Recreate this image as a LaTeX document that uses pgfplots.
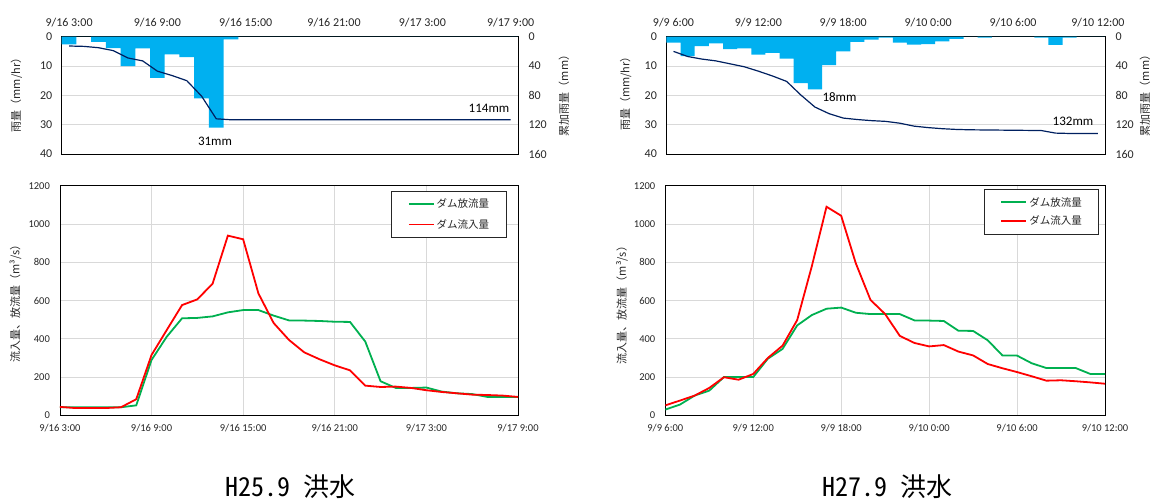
\documentclass[border=0pt]{standalone}
\usepackage{pgfplots}
\pgfplotsset{compat=1.18}
\usepackage{fontspec}
\usepackage{graphicx}
\setmainfont{Carlito}
\newfontfamily\jp{Noto Sans CJK JP}
\newfontfamily\jphw{Noto Sans CJK JP}[RawFeature=+hwid]
\definecolor{barblue}{HTML}{00B0F0}
\definecolor{navy}{HTML}{002060}
\definecolor{dgreen}{HTML}{00B050}
\definecolor{gridgray}{HTML}{D9D9D9}
\definecolor{txt}{HTML}{262626}

\pgfplotsset{
  rainax/.style={
    scale only axis, anchor=center, height=117.3pt,
    xmin=-0.5, xmax=30.5, ymin=0, ymax=40, y dir=reverse,
    axis line style={black, line width=0.8pt},
    major tick length=0pt,
    ytick={0,10,20,30,40}, ymajorgrids, grid style={gridgray, line width=0.8pt},
    xtick={0,6,12,18,24,30}, xtick pos=top, xticklabel pos=top, ytick pos=left,
    tick label style={font=\fontsize{12}{14}\selectfont, text=txt},
    xticklabel style={yshift=6pt},
    yticklabel style={xshift=-6pt},
    /pgf/number format/assume math mode=true,
  },
  cumax/.style={
    scale only axis, anchor=center, height=117.3pt,
    xmin=-0.5, xmax=30.5, ymin=0, ymax=160, y dir=reverse,
    axis y line*=right, axis x line=none,
    axis line style={black, line width=0.8pt},
    major tick length=0pt, ytick={0,40,80,120,160},
    tick label style={font=\fontsize{12}{14}\selectfont, text=txt},
    yticklabel style={xshift=7pt},
    /pgf/number format/assume math mode=true,
  },
  flowax/.style={
    scale only axis, anchor=center, height=229.6pt,
    xmin=0, xmax=30, ymin=0, ymax=1200,
    axis line style={black, line width=0.8pt},
    major tick length=0pt,
    xtick={0,6,12,18,24,30}, ytick={0,200,400,600,800,1000,1200},
    grid=major, grid style={gridgray, line width=0.8pt},
    tick label style={font=\fontsize{10.5}{12}\selectfont, text=txt},
    xticklabel style={yshift=-5pt},
    yticklabel style={xshift=-6.5pt},
    /pgf/number format/assume math mode=true,
    /pgf/number format/1000 sep={},
    legend image code/.code={\draw[##1] (0pt,0pt) -- (25pt,0pt);},
    legend cell align=left,
  },
  rel/.style={dgreen, line width=1.8pt},
  inf/.style={red, line width=1.8pt},
}

\begin{document}
\begin{tikzpicture}[x=1pt,y=1pt]
\path[use as bounding box] (0,0) rectangle (1152,499);
\coordinate (LT) at (289.85,403.65);
\coordinate (RT) at (885.7,403.65);
\coordinate (LB) at (288.95,198.5);
\coordinate (RB) at (885.15,198.5);

% ===== Left top: rainfall H25.9 =====
\begin{axis}[rainax, at={(LT)}, width=456.3pt,
  xticklabels={9/16 3:00,9/16 9:00,9/16 15:00,9/16 21:00,9/17 3:00,9/17 9:00}]
\addplot[ybar, bar width=1, bar shift=0pt, fill=barblue, draw=none] coordinates {
(0,2.6)(1,0)(2,1.8)(3,3.9)(4,10)(5,4)(6,14)(7,6)(8,7)(9,21)(10,31)(11,0.9)
(12,0)(13,0)(14,0)(15,0)(16,0)(17,0)(18,0)(19,0)(20,0)(21,0)(22,0)(23,0)(24,0)
(25,0)(26,0)(27,0)(28,0)(29,0)(30,0)};
\end{axis}
\begin{axis}[cumax, at={(LT)}, width=456.3pt]
\addplot[navy, line width=1.2pt] coordinates {
(0,12.7)(1,13.2)(2,15)(3,19)(4,29)(5,33)(6,47)(7,53)(8,60)(9,81)(10,112)(11,113.3)
(12,113.3)(13,113.3)(14,113.3)(15,113.3)(16,113.3)(17,113.3)(18,113.3)(19,113.3)
(20,113.3)(21,113.3)(22,113.3)(23,113.3)(24,113.3)(25,113.3)(26,113.3)(27,113.3)
(28,113.3)(29,113.3)(30,113.3)};
\end{axis}

% ===== Right top: rainfall H27.9 =====
\begin{axis}[rainax, at={(RT)}, width=438.6pt,
  xticklabels={9/9 6:00,9/9 12:00,9/9 18:00,9/10 0:00,9/10 6:00,9/10 12:00}]
\addplot[ybar, bar width=1, bar shift=0pt, fill=barblue, draw=none] coordinates {
(0,2)(1,6.6)(2,3.2)(3,2.3)(4,4.2)(5,4)(6,6.1)(7,5.5)(8,7.5)(9,15.8)(10,18)(11,9.7)
(12,5)(13,1.8)(14,1)(15,0.3)(16,2)(17,2.7)(18,2.5)(19,1.6)(20,0.7)(21,0)(22,0.3)
(23,0)(24,0)(25,0)(26,0.3)(27,2.8)(28,0.3)(29,0)(30,0)};
\end{axis}
\begin{axis}[cumax, at={(RT)}, width=438.6pt]
\addplot[navy, line width=1.2pt] coordinates {
(0,20)(1,27)(2,30.5)(3,33)(4,37)(5,41)(6,47)(7,53.6)(8,61)(9,79.5)(10,96)(11,105)
(12,111)(13,113)(14,114.5)(15,115.5)(16,118)(17,122)(18,124)(19,125.5)(20,126.5)
(21,127)(22,127.2)(23,127.4)(24,127.6)(25,127.8)(26,128)(27,131.5)(28,132)(29,132)(30,132)};
\end{axis}

% ===== Left bottom: flow H25.9 =====
\begin{axis}[flowax, at={(LB)}, width=458.1pt,
  xticklabels={9/16 3:00,9/16 9:00,9/16 15:00,9/16 21:00,9/17 3:00,9/17 9:00},
  legend style={at={(0.7217,0.9769)}, anchor=north west, draw=black!85, line width=0.8pt,
    font=\jp\fontsize{10.5}{12}\selectfont, text=txt, inner xsep=17pt, inner ysep=7pt,
    row sep=9pt, column sep=1.5pt, nodes={inner sep=0.5pt}}]
\addplot[rel] coordinates {
(0,42)(1,42)(2,42)(3,42)(4,42)(5,52)(6,289)(7,411)(8,507)(9,509)(10,517)(11,538)
(12,550)(13,550)(14,521)(15,496)(16,495)(17,493)(18,489)(19,488)(20,385)(21,178)
(22,143)(23,143)(24,145)(25,124)(26,115)(27,111)(28,96)(29,96)(30,96)};
\addlegendentry{ダム放流量}
\addplot[inf] coordinates {
(0,44)(1,38)(2,38)(3,38)(4,42)(5,84)(6,315)(7,446)(8,576)(9,606)(10,688)(11,939)
(12,920)(13,637)(14,482)(15,394)(16,329)(17,293)(18,261)(19,235)(20,155)(21,148)
(22,150)(23,143)(24,131)(25,122)(26,115)(27,108)(28,106)(29,103)(30,96)};
\addlegendentry{ダム流入量}
\end{axis}

% ===== Right bottom: flow H27.9 =====
\begin{axis}[flowax, at={(RB)}, width=439.7pt,
  xticklabels={9/9 6:00,9/9 12:00,9/9 18:00,9/10 0:00,9/10 6:00,9/10 12:00},
  legend style={at={(0.7243,0.9843)}, anchor=north west, draw=black!85, line width=0.8pt,
    font=\jp\fontsize{10.5}{12}\selectfont, text=txt, inner xsep=16pt, inner ysep=7pt,
    row sep=7.5pt, column sep=2pt, nodes={inner sep=0.5pt}}]
\addplot[rel] coordinates {
(0,30)(1,56)(2,103)(3,129)(4,200)(5,200)(6,200)(7,296)(8,347)(9,470)(10,524)(11,557)
(12,563)(13,536)(14,529)(15,529)(16,529)(17,496)(18,495)(19,493)(20,442)(21,441)
(22,392)(23,313)(24,312)(25,272)(26,247)(27,247)(28,247)(29,216)(30,216)};
\addlegendentry{ダム放流量}
\addplot[inf] coordinates {
(0,52)(1,77)(2,103)(3,143)(4,199)(5,186)(6,216)(7,300)(8,364)(9,498)(10,780)(11,1090)
(12,1043)(13,794)(14,603)(15,529)(16,415)(17,378)(18,360)(19,367)(20,333)(21,313)
(22,268)(23,246)(24,226)(25,204)(26,181)(27,183)(28,178)(29,172)(30,165)};
\addlegendentry{ダム流入量}
\end{axis}

% ===== Axis titles =====
\begin{scope}[every node/.style={font=\jp\fontsize{11}{13}\selectfont, text=txt, rotate=90, inner sep=0pt}]
\node at (16.5,406.5) {雨量（mm/hr）};
\node at (564,406) {累加雨量（mm）};
\node at (625.6,408) {雨量（mm/hr）};
\node at (1145,406) {累加雨量（mm）};
\node at (15.4,198.2) {流入量、放流量（m³/s）};
\node at (622,196.5) {流入量、放流量（m³/s）};
\end{scope}

% ===== Annotations =====
\begin{scope}[every node/.style={font=\fontsize{13}{15}\selectfont, text=black, inner sep=0pt}]
\node at (215,358) {31mm};
\node at (489,390.3) {114mm};
\node at (839.5,401.7) {18mm};
\node at (1073,378) {132mm};
\end{scope}

% ===== Captions =====
\node[font=\jphw\fontsize{26}{30}\selectfont, inner sep=0pt] at (290,12) {H25.9 洪水};
\node[font=\jphw\fontsize{26}{30}\selectfont, inner sep=0pt] at (887.5,12) {H27.9 洪水};
\end{tikzpicture}
\end{document}
